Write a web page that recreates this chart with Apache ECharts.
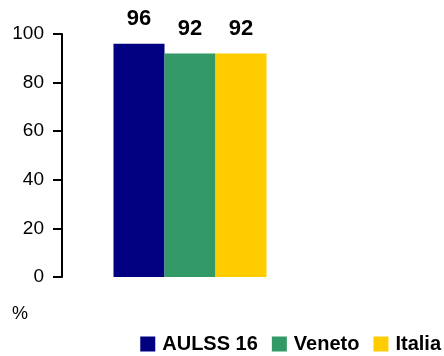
<!DOCTYPE html>
<html>
<head>
<meta charset="utf-8">
<script src="https://cdn.jsdelivr.net/npm/echarts@6/dist/echarts.min.js"></script>
<style>html,body{margin:0;padding:0;background:#fff}#c{width:444px;height:356px}</style>
</head>
<body>
<div id="c"></div>
<script>
const categories = [''];
const seriesNames = ['AULSS 16', 'Veneto', 'Italia'];
const aulss16 = [96];
const veneto = [92];
const italia = [92];
const yTicks = [0, 20, 40, 60, 80, 100];
const unitLabel = '%';

const colors = ['#000080', '#339966', '#FFCC00'];
const font = '"Liberation Sans", Arial, sans-serif';
const values = [aulss16, veneto, italia];

const chart = echarts.init(document.getElementById('c'), null, {renderer: 'canvas'});
chart.setOption({
  animation: false,
  grid: {left: 62, top: 34, right: 126, bottom: 79, containLabel: false},
  xAxis: {
    type: 'category', data: categories,
    axisLine: {show: false}, axisTick: {show: false}, axisLabel: {show: false}
  },
  yAxis: {
    type: 'value', min: yTicks[0], max: yTicks[yTicks.length - 1], interval: 20,
    axisLine: {show: true, lineStyle: {color: '#000', width: 2}},
    axisTick: {show: true, length: 9, lineStyle: {color: '#000', width: 2}},
    splitLine: {show: false},
    axisLabel: {color: '#000', fontSize: 19, fontFamily: font, margin: 18}
  },
  legend: {
    data: seriesNames, top: 334, right: 3, padding: 0, itemWidth: 15, itemHeight: 15, itemGap: 14,
    icon: 'rect',
    textStyle: {color: '#000', fontSize: 20, fontWeight: 'bold', fontFamily: font, padding: [0, 0, 0, 2]}
  },
  graphic: [{type: 'text', left: 12, top: 305, style: {text: unitLabel, fontSize: 18, fontFamily: font, fill: '#000'}}],
  series: seriesNames.map((n, i) => ({
    name: n, type: 'bar', data: values[i], barWidth: 51, barGap: '0%',
    itemStyle: {color: colors[i]},
    label: {show: true, position: 'top', distance: 14, color: '#000', fontSize: 22, fontWeight: 'bold', fontFamily: font}
  }))
});
</script>
</body>
</html>
